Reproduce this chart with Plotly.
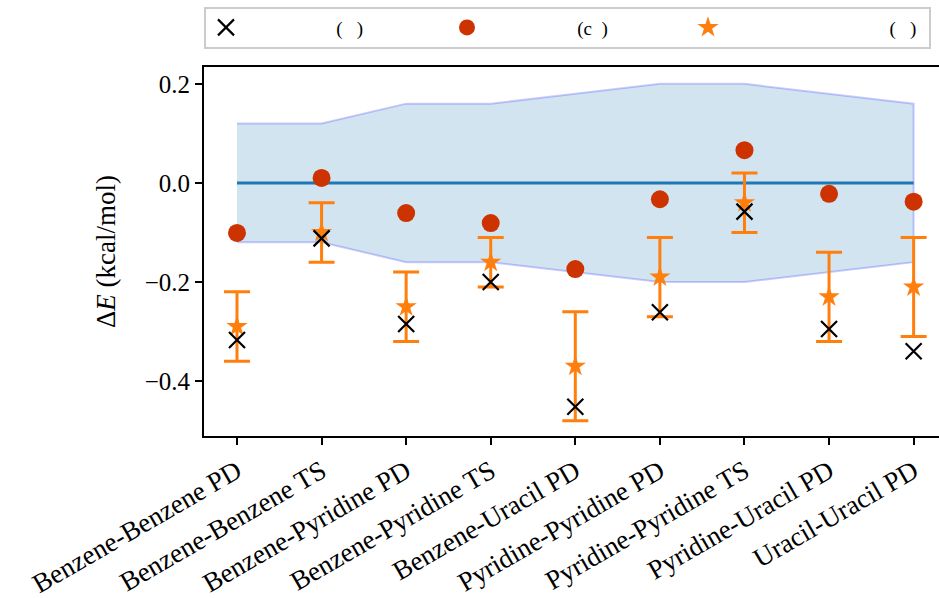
import plotly.graph_objects as go

categories = ["Benzene-Benzene PD", "Benzene-Benzene TS", "Benzene-Pyridine PD",
              "Benzene-Pyridine TS", "Benzene-Uracil PD", "Pyridine-Pyridine PD",
              "Pyridine-Pyridine TS", "Pyridine-Uracil PD", "Uracil-Uracil PD"]
cross_vals = [-0.317, -0.112, -0.285, -0.200, -0.452, -0.261, -0.058, -0.295, -0.340]
circle_vals = [-0.101, 0.010, -0.061, -0.081, -0.174, -0.033, 0.066, -0.022, -0.038]
star_vals = [-0.290, -0.100, -0.250, -0.160, -0.370, -0.190, -0.040, -0.230, -0.210]
star_err = [0.070, 0.060, 0.070, 0.050, 0.110, 0.080, 0.060, 0.090, 0.100]
band_half = [0.12, 0.12, 0.16, 0.16, 0.18, 0.20, 0.20, 0.18, 0.16]
zero_line = [0.0] * 9
legend_labels = ["(\u00a0\u00a0\u00a0)", "(c\u00a0\u00a0)", "(\u00a0\u00a0\u00a0)"]

x = list(range(len(categories)))
upper = band_half
lower = [-v for v in band_half]

FONT = "Liberation Serif"
fig = go.Figure()

fig.add_trace(go.Scatter(
    x=x + x[::-1], y=upper + lower[::-1], fill="toself",
    fillcolor="rgba(31,119,180,0.2)", line=dict(color="rgba(0,0,255,0.2)", width=2),
    mode="lines", showlegend=False, hoverinfo="skip"))
fig.add_trace(go.Scatter(x=x, y=zero_line, mode="lines",
                         line=dict(color="#1f77b4", width=3), showlegend=False))

pad1 = "\u00a0" * 19
pad3 = "\u00a0" * 34
fig.add_trace(go.Scatter(
    x=x, y=star_vals, mode="markers", name=pad3 + legend_labels[2], legendrank=3,
    marker=dict(symbol="star", size=16, color="#ff7f0e"),
    error_y=dict(type="data", array=star_err, color="#ff7f0e", thickness=3, width=13)))
fig.add_trace(go.Scatter(
    x=x, y=cross_vals, mode="markers", name=pad1 + legend_labels[0], legendrank=1,
    marker=dict(symbol="x-thin", size=16, color="black", line=dict(color="black", width=2.2))))
fig.add_trace(go.Scatter(
    x=x, y=circle_vals, mode="markers", name=pad1 + legend_labels[1], legendrank=2,
    marker=dict(symbol="circle", size=18, color="#cc3300")))

fig.update_layout(
    width=939, height=598,
    margin=dict(l=204, r=0, t=67, b=162, autoexpand=False),
    plot_bgcolor="white", paper_bgcolor="white",
    font=dict(family=FONT, size=20, color="black"),
    legend=dict(orientation="h", x=0.0, xanchor="left", y=1.05, yanchor="bottom",
                bordercolor="#cccccc", borderwidth=2, entrywidth=196, entrywidthmode="pixels",
                font=dict(family=FONT, size=19), itemsizing="trace",
                tracegroupgap=0),
)
fig.update_xaxes(
    range=[-0.39, 8.30], tickmode="array", tickvals=x, ticktext=categories,
    tickangle=-30, ticks="outside", ticklen=7, tickwidth=1.5, tickcolor="black",
    showline=True, linecolor="black", linewidth=2, mirror=True, showgrid=False,
    zeroline=False, tickfont=dict(family=FONT, size=27))
fig.update_yaxes(
    range=[-0.511, 0.234], tickvals=[-0.4, -0.2, 0.0, 0.2], tickformat=".1f",
    ticks="outside", ticklen=7, tickwidth=1.5, tickcolor="black",
    showline=True, linecolor="black", linewidth=2, showgrid=False, zeroline=False,
    title=dict(text="Δ<i>E</i> (kcal/mol)", font=dict(family=FONT, size=27), standoff=21),
    tickfont=dict(family=FONT, size=25))

fig.write_html("out.html")
